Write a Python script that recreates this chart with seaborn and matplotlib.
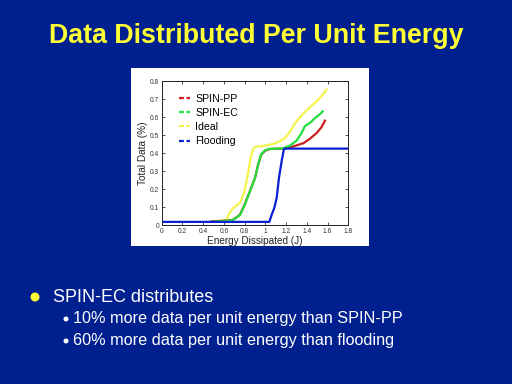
import matplotlib
matplotlib.use("Agg")
import matplotlib.pyplot as plt
from matplotlib.lines import Line2D
from matplotlib.patches import Rectangle, Ellipse
import seaborn as sns
import numpy as np
import pandas as pd

# values (energy in J, fraction of total data)
pp_x = [0.48, 0.63, 0.69, 0.755, 0.80, 0.85, 0.90, 0.93, 0.96, 1.00, 1.045, 1.17, 1.24, 1.30, 1.37, 1.43, 1.495, 1.54, 1.575]
pp_y = [0.022, 0.026, 0.031, 0.059, 0.115, 0.189, 0.263, 0.337, 0.393, 0.415, 0.424, 0.426, 0.433, 0.444, 0.457, 0.481, 0.513, 0.544, 0.581]

ec_x = [0.49, 0.63, 0.69, 0.755, 0.80, 0.85, 0.90, 0.93, 0.96, 1.00, 1.045, 1.17, 1.24, 1.30, 1.35, 1.38, 1.43, 1.48, 1.53, 1.553]
ec_y = [0.020, 0.025, 0.030, 0.057, 0.112, 0.186, 0.262, 0.337, 0.395, 0.418, 0.425, 0.427, 0.444, 0.470, 0.513, 0.550, 0.569, 0.596, 0.619, 0.633]

ideal_x = [0.50, 0.63, 0.643, 0.69, 0.755, 0.80, 0.836, 0.858, 0.884, 0.916, 0.98, 1.077, 1.14, 1.19, 1.24, 1.30, 1.37, 1.43, 1.495, 1.54, 1.59]
ideal_y = [0.022, 0.031, 0.059, 0.096, 0.124, 0.189, 0.300, 0.374, 0.430, 0.437, 0.441, 0.452, 0.467, 0.485, 0.522, 0.578, 0.624, 0.656, 0.689, 0.717, 0.754]

flood_x = [0.0, 1.038, 1.061, 1.086, 1.109, 1.131, 1.157, 1.18, 1.8]
flood_y = [0.019, 0.019, 0.059, 0.096, 0.152, 0.263, 0.356, 0.426, 0.426]

series = ["SPIN-PP", "SPIN-EC", "Ideal", "Flooding"]
colors = ["#c81e1e", "#22e03c", "#f4f44c", "#0a1ed2"]

x_ticks = [0, 0.2, 0.4, 0.6, 0.8, 1, 1.2, 1.4, 1.6, 1.8]
y_ticks = [0, 0.1, 0.2, 0.3, 0.4, 0.5, 0.6, 0.7, 0.8]

W, H = 512, 384
bg = "#00208f"
fig = plt.figure(figsize=(W / 100, H / 100), dpi=100, facecolor=bg)
plt.rcParams["font.family"] = ["Liberation Sans", "DejaVu Sans"]

def fx(px):
    return px / W

def fy(py):
    return 1 - py / H

# white panel behind the chart
fig.patches.append(Rectangle((fx(131), fy(246)), (369 - 131) / W, (246 - 68) / H,
                             transform=fig.transFigure, facecolor="white", edgecolor="none", zorder=-5))

ax = fig.add_axes([fx(161.7), fy(225.3), (348.3 - 161.7) / W, (225.3 - 81.3) / H])
ax.set_zorder(2)
ax.set_facecolor("white")

data = [(pp_x, pp_y), (ec_x, ec_y), (ideal_x, ideal_y), (flood_x, flood_y)]
order = [2, 0, 1, 3]
for i in order:
    xs, ys = data[i]
    df = pd.DataFrame({"x": xs, "y": ys})
    sns.lineplot(data=df, x="x", y="y", ax=ax, color=colors[i], linewidth=1.6,
                 sort=False, estimator=None, legend=False)

ax.set_xlim(0, 1.8)
ax.set_ylim(0, 0.8)
ax.set_xticks(x_ticks)
ax.set_xticklabels([f"{t:g}" for t in x_ticks])
ax.set_yticks(y_ticks)
ax.set_yticklabels([f"{t:g}" for t in y_ticks])
ax.tick_params(direction="in", length=2.5, width=0.6, labelsize=4.8, pad=2,
               top=True, right=True, colors="#333333")
for s in ax.spines.values():
    s.set_linewidth(0.7)
    s.set_color("#222222")
ax.set_xlabel("Energy Dissipated (J)", fontsize=7.2, labelpad=1, color="#222222")
ax.set_ylabel("Total Data (%)", fontsize=7.2, labelpad=1, color="#222222")

handles = [Line2D([0], [0], color=c, linestyle=(0, (2.2, 1.2)), linewidth=1.6) for c in colors]
ax.legend(handles, series, loc="upper left", bbox_to_anchor=(0.095, 0.915), frameon=False,
          fontsize=7.6, handlelength=1.0, handletextpad=0.5, labelspacing=0.4,
          borderaxespad=0, borderpad=0)

# slide text
fig.text(0.5, fy(36), "Data Distributed Per Unit Energy", ha="center", va="center",
         fontsize=19.3, fontweight="bold", color="#ffff33")
fig.patches.append(Ellipse((fx(35), fy(297)), 9 / W, 9 / H, transform=fig.transFigure,
                           facecolor="#ffff33", edgecolor="none"))
fig.text(fx(53), fy(297), "SPIN-EC distributes", ha="left", va="center", fontsize=13, color="white")
sub = ["10% more data per unit energy than SPIN-PP", "60% more data per unit energy than flooding"]
for k, t in enumerate(sub):
    y0 = 318 + 22 * k
    fig.patches.append(Ellipse((fx(66), fy(y0 + 1)), 5 / W, 5 / H, transform=fig.transFigure,
                               facecolor="white", edgecolor="none"))
    fig.text(fx(73), fy(y0), t, ha="left", va="center", fontsize=11.7, color="white")

fig.savefig("out.png", dpi=100, facecolor=bg)
